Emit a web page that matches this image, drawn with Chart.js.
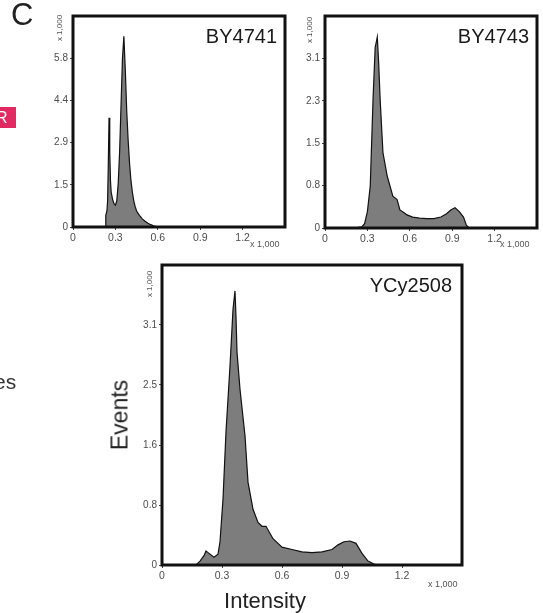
<!DOCTYPE html>
<html>
<head>
<meta charset="utf-8">
<script src="https://cdn.jsdelivr.net/npm/chart.js@4.4.1/dist/chart.umd.min.js"></script>
<style>
  body { margin: 0; background: #fff; }
  #wrap { position: relative; width: 543px; height: 613px; overflow: hidden; font-family: 'Liberation Sans', Arial, sans-serif; }
  canvas { position: absolute; }
  .txt { position: absolute; white-space: nowrap; color: #222; }
</style>
</head>
<body>
<div id="wrap">
  <canvas id="c1" width="300" height="250" style="left:0;top:0"></canvas>
  <canvas id="c2" width="263" height="250" style="left:280px;top:0"></canvas>
  <canvas id="c3" width="443" height="363" style="left:100px;top:250px"></canvas>
  <div class="txt" style="left:11px;top:-3px;font-size:31px;">C</div>
  <div style="position:absolute;left:0;top:107px;width:16px;height:21px;background:#e22a62;"></div>
  <div class="txt" style="left:-4px;top:107px;font-size:16px;color:#fff;line-height:21px;">R</div>
  <div class="txt" style="left:-6px;top:370px;font-size:21px;color:#333;">es</div>
  <div class="txt" style="left:120px;top:415px;font-size:23px;transform:translate(-50%,-50%) rotate(-90deg);">Events</div>
  <div class="txt" style="left:265px;top:601px;font-size:22px;transform:translate(-50%,-50%);">Intensity</div>
</div>
<script>
// intensity (x 1,000) and events (x 1,000)
const by4741X = [0.20, 0.23, 0.232, 0.24, 0.245, 0.25, 0.255, 0.26, 0.265, 0.27, 0.28, 0.29, 0.30, 0.31, 0.32, 0.33, 0.34, 0.35, 0.36, 0.37, 0.38, 0.39, 0.40, 0.41, 0.42, 0.43, 0.44, 0.45, 0.47, 0.49, 0.51, 0.53, 0.55, 0.57, 0.59, 0.60]
const by4741Y = [0, 0, 0.4, 0.55, 0.9, 2.2, 3.75, 2.6, 1.6, 1.2, 0.95, 0.8, 0.75, 0.9, 1.5, 2.6, 4.2, 5.8, 6.55, 5.4, 4.0, 3.0, 2.2, 1.6, 1.2, 0.9, 0.7, 0.55, 0.4, 0.28, 0.2, 0.13, 0.08, 0.04, 0.01, 0]

const by4743X = [0, 0.20, 0.26, 0.28, 0.30, 0.32, 0.34, 0.355, 0.37, 0.38, 0.39, 0.41, 0.44, 0.48, 0.51, 0.53, 0.56, 0.58, 0.62, 0.67, 0.72, 0.77, 0.82, 0.86, 0.89, 0.92, 0.95, 0.98, 1.00, 1.02]
const by4743Y = [0, 0, 0.02, 0.08, 0.3, 0.76, 2.36, 3.3, 3.49, 3.0, 2.36, 1.38, 0.95, 0.58, 0.52, 0.33, 0.28, 0.24, 0.2, 0.18, 0.17, 0.17, 0.2, 0.26, 0.33, 0.37, 0.3, 0.2, 0.05, 0]

const ycyX = [0.10, 0.17, 0.19, 0.21, 0.22, 0.23, 0.26, 0.28, 0.29, 0.305, 0.32, 0.34, 0.355, 0.365, 0.37, 0.375, 0.39, 0.415, 0.43, 0.455, 0.48, 0.50, 0.52, 0.555, 0.60, 0.65, 0.70, 0.75, 0.80, 0.85, 0.88, 0.91, 0.94, 0.97, 1.00, 1.03, 1.07]
const ycyY = [0, 0, 0.05, 0.12, 0.18, 0.16, 0.1, 0.14, 0.3, 0.85, 1.72, 2.57, 3.3, 3.54, 3.2, 2.75, 2.27, 1.67, 1.07, 0.72, 0.55, 0.5, 0.5, 0.34, 0.23, 0.2, 0.17, 0.16, 0.17, 0.2, 0.26, 0.3, 0.31, 0.28, 0.15, 0.05, 0]

const xTicks = [0, 0.3, 0.6, 0.9, 1.2]
const xLabels = ['0', '0.3', '0.6', '0.9', '1.2']
const by4741YTicks = [0, 1.45, 2.9, 4.35, 5.8]
const by4741YLabels = ['0', '1.5', '2.9', '4.4', '5.8']
const by4743YTicks = [0, 0.775, 1.55, 2.325, 3.1]
const by4743YLabels = ['0', '0.8', '1.5', '2.3', '3.1']
const ycyYTicks = [0, 0.775, 1.55, 2.325, 3.1]
const ycyYLabels = ['0', '0.8', '1.6', '2.5', '3.1']

const panelDecor = {
  id: 'panel',
  afterDatasetsDraw(chart, args, opts) {
    const { ctx, chartArea: a } = chart
    ctx.save()
    ctx.strokeStyle = '#111'
    ctx.lineWidth = 3
    ctx.strokeRect(a.left, a.top, a.right - a.left, a.bottom - a.top)
    ctx.fillStyle = '#1a1a1a'
    ctx.font = opts.titleSize + 'px "Liberation Sans", Arial, sans-serif'
    ctx.textAlign = 'right'
    ctx.textBaseline = 'alphabetic'
    ctx.fillText(opts.title, a.right - opts.titleRight, a.top + opts.titleBase)
    ctx.fillStyle = '#555'
    ctx.font = '9px "Liberation Sans", Arial, sans-serif'
    ctx.textAlign = 'left'
    ctx.fillText('x 1,000', opts.xUnit[0], opts.xUnit[1])
    ctx.translate(opts.yUnit[0], opts.yUnit[1])
    ctx.rotate(-Math.PI / 2)
    ctx.textAlign = 'center'
    ctx.textBaseline = 'middle'
    ctx.font = '8px "Liberation Sans", Arial, sans-serif'
    ctx.fillText('x 1,000', 0, 0)
    ctx.restore()
  },
}

function makeChart(id, xs, ys, yMax, yTicks, yLabels, box, decor) {
  return new Chart(document.getElementById(id), {
    type: 'line',
    data: {
      datasets: [{
        data: xs.map((x, i) => ({ x, y: ys[i] })),
        borderColor: '#111',
        borderWidth: 1.2,
        backgroundColor: '#7d7d7d',
        fill: 'origin',
        pointRadius: 0,
        tension: 0,
      }],
    },
    options: {
      responsive: false,
      animation: false,
      layout: { padding: { left: 0, right: box.right, top: box.top, bottom: 0 } },
      plugins: { legend: { display: false }, tooltip: { enabled: false }, panel: decor },
      scales: {
        x: {
          type: 'linear',
          min: 0,
          max: 1.5,
          afterBuildTicks: (s) => { s.ticks = xTicks.map((v) => ({ value: v })) },
          afterFit: (s) => { s.height = box.xh },
          ticks: {
            callback: (v, i) => xLabels[i],
            color: '#4d4d4d',
            font: { size: 10.5 },
            padding: 2,
            maxRotation: 0,
            autoSkip: false,
          },
          grid: { drawOnChartArea: false, tickLength: 3, color: '#444' },
          border: { display: false },
        },
        y: {
          min: 0,
          max: yMax,
          afterBuildTicks: (s) => { s.ticks = yTicks.map((v) => ({ value: v })) },
          afterFit: (s) => { s.width = box.yw },
          ticks: {
            callback: (v, i) => yLabels[i],
            color: '#4d4d4d',
            font: { size: 10 },
            padding: 2,
            autoSkip: false,
          },
          grid: { drawOnChartArea: false, tickLength: 3, color: '#444' },
          border: { display: false },
        },
      },
    },
    plugins: [panelDecor],
  })
}

makeChart('c1', by4741X, by4741Y, 7.25, by4741YTicks, by4741YLabels,
  { right: 15, top: 16, xh: 23, yw: 73 },
  { title: 'BY4741', titleSize: 20, titleRight: 8, titleBase: 27, xUnit: [250, 247], yUnit: [60, 28] })
makeChart('c2', by4743X, by4743Y, 3.875, by4743YTicks, by4743YLabels,
  { right: 6, top: 16, xh: 22, yw: 45 },
  { title: 'BY4743', titleSize: 20, titleRight: 8, titleBase: 27, xUnit: [220, 247], yUnit: [30, 30] })
makeChart('c3', ycyX, ycyY, 3.875, ycyYTicks, ycyYLabels,
  { right: 81, top: 15, xh: 48, yw: 62 },
  { title: 'YCy2508', titleSize: 20, titleRight: 10, titleBase: 27, xUnit: [328, 337], yUnit: [50, 34] })
</script>
</body>
</html>
